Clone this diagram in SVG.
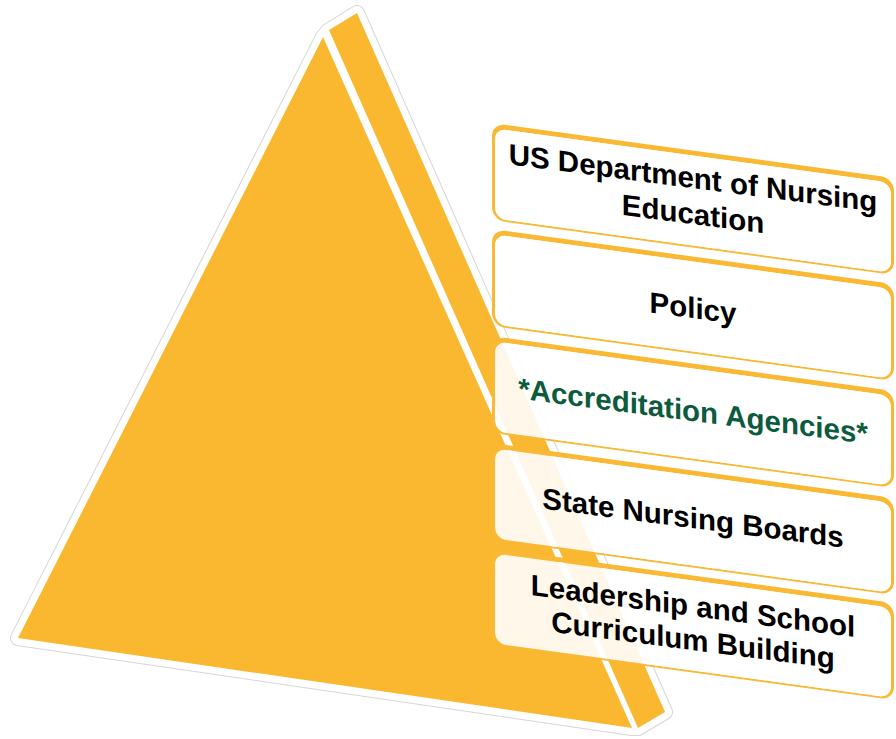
<svg xmlns="http://www.w3.org/2000/svg" width="896" height="739" viewBox="0 0 896 739">
  <defs>
    <style>
      .halo-edge { fill: #ffffff; stroke: #d6d6d6; stroke-width: 16; stroke-linejoin: round; }
      .halo { fill: #ffffff; stroke: #ffffff; stroke-width: 14; stroke-linejoin: round; }
      .face-gold { fill: #F9B82F; }
      .frame { fill: #FAB935; fill-rule: evenodd; }
      .panel { fill: #ffffff; fill-opacity: 0.9; }
      .label { font-family: "Liberation Sans", Arial, Helvetica, sans-serif; font-weight: bold; font-size: 29.5px; fill: #000000; text-anchor: middle; }
      .label.green { fill: #0B5B3C; }
    </style>
    <!-- rounded frame band: thicker along the top edge, thin along the bottom -->
    <path id="ring" class="frame" d="M13,0 H389 A13,13 0 0 1 402,13 V84 A13,13 0 0 1 389,97 H13 A13,13 0 0 1 0,84 V13 A13,13 0 0 1 13,0 Z M14,5 H388 A11,11 0 0 1 399,16 V84 A11,11 0 0 1 388,95 H14 A11,11 0 0 1 3,84 V16 A11,11 0 0 1 14,5 Z"/>
    <rect id="pane" class="panel" x="3" y="5" width="396" height="90" rx="11"/>
  </defs>

  <rect width="896" height="739" fill="#ffffff"/>

  <!-- pyramid: white rim with a faint grey edge, front face and side face -->
  <g id="pyramid">
    <polygon class="halo-edge" points="18,638 323,37 328,31 357,13 665,712 638,728 632,728"/>
    <polygon class="halo" points="18,638 323,37 328,31 357,13 665,712 638,728 632,728"/>
    <polygon class="face-gold" points="18,638 323,37 632,728"/>
    <polygon class="face-gold" points="329,30 357,13 665,712 638,728"/>
  </g>

  <!-- level panels, sheared to follow the pyramid's perspective -->
  <g id="level1" transform="translate(492,123)">
    <g transform="skewY(7.8)">
      <use href="#ring"/>
      <use href="#pane"/>
    </g>
    <text class="label" transform="skewY(7.4)" x="201" y="39">US Department of Nursing</text>
    <text class="label" transform="skewY(7.4)" x="201" y="75">Education</text>
  </g>

  <g id="level2" transform="translate(492,229)">
    <g transform="skewY(7.8)">
      <use href="#ring"/>
      <use href="#pane"/>
    </g>
    <text class="label" transform="skewY(7.4)" x="201" y="63">Policy</text>
  </g>

  <g id="level3" transform="translate(492,336)">
    <g transform="skewY(7.8)">
      <use href="#ring"/>
      <use href="#pane"/>
    </g>
    <text class="label green" transform="skewY(7.4)" x="201" y="59">*Accreditation Agencies*</text>
  </g>

  <g id="level4" transform="translate(492,443)">
    <g transform="skewY(7.8)">
      <use href="#ring"/>
      <use href="#pane"/>
    </g>
    <text class="label" transform="skewY(7.4)" x="201" y="59">State Nursing Boards</text>
  </g>

  <g id="level5" transform="translate(492,548)">
    <g transform="skewY(7.8)">
      <use href="#ring"/>
      <use href="#pane"/>
    </g>
    <text class="label" transform="skewY(7.4)" x="201" y="42">Leadership and School</text>
    <text class="label" transform="skewY(7.4)" x="201" y="76">Curriculum Building</text>
  </g>

  <g id="connectors"/>
</svg>
